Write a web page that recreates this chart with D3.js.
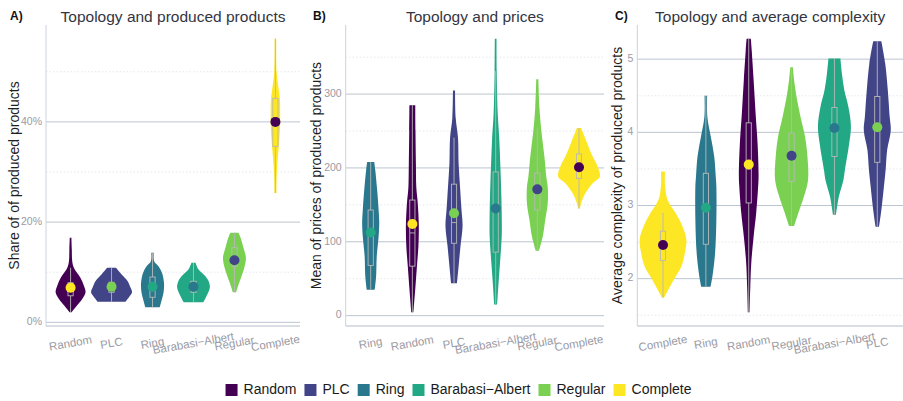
<!DOCTYPE html>
<html>
<head>
<meta charset="utf-8">
<script src="https://cdn.jsdelivr.net/npm/d3@7"></script>
<style>
  body { margin: 0; background: #fff; }
  text { font-family: "Liberation Sans", Arial, sans-serif; }
</style>
</head>
<body>
<div id="chart"></div>
<script>
// categories and viridis colours
var categories = ["Random", "PLC", "Ring", "Barabasi-Albert", "Regular", "Complete"];
var catColors = ["#440154", "#414487", "#2A788E", "#22A884", "#7AD151", "#FDE725"];

// panel A: share of produced products (%)
var shareOrder = ["Random", "PLC", "Ring", "Barabasi-Albert", "Regular", "Complete"];
var shareDensity = [
  [[2.0,0.05],[3.3,0.3],[4.6,0.56],[6.0,0.73],[7.3,0.65],[8.9,0.48],[10.9,0.16],[12.2,0.08],[14.5,0.06],[16.9,0.04]],
  [[4.1,0.68],[5.0,0.85],[6.0,1.0],[7.0,0.92],[8.3,0.77],[9.6,0.48],[10.9,0.22]],
  [[3.0,0.35],[4.6,0.46],[6.0,0.54],[7.9,0.56],[9.9,0.46],[11.2,0.29],[12.2,0.08],[13.9,0.06]],
  [[4.0,0.48],[5.6,0.68],[7.0,0.8],[8.3,0.73],[9.3,0.56],[10.6,0.24],[11.9,0.1]],
  [[6.0,0.08],[7.3,0.18],[8.9,0.32],[10.9,0.48],[12.9,0.56],[14.9,0.44],[16.9,0.3],[17.9,0.2]],
  [[25.8,0.05],[30,0.07],[34.4,0.15],[37,0.2],[39.8,0.23],[42,0.23],[44.4,0.22],[47.7,0.12],[50,0.06],[56.6,0.04]]
];
// [lower whisker, q1, median, q3, upper whisker]
var shareBox = [[2.0,5.3,6.3,7.9,10.9],[4.1,6.0,6.6,8.0,10.9],[3.0,5.0,7.0,9.05,13.9],[4.0,6.0,7.0,8.2,11.9],[6.0,11.2,12.5,14.9,17.9],[25.8,35.1,40.0,44.7,56.6]];
var shareMean = [6.9, 7.1, 7.1, 7.1, 12.4, 40.0];
var shareTicks = [0, 20, 40];
var shareMinor = [10, 30, 50];

// panel B: mean of prices
var priceOrder = ["Ring", "Random", "PLC", "Barabasi-Albert", "Regular", "Complete"];
var priceDensity = [
  [[35,0.19],[53,0.26],[80,0.29],[107,0.38],[125,0.41],[143,0.38],[170,0.31],[197,0.22],[208,0.17]],
  [[4.5,0.05],[36,0.14],[67,0.22],[94,0.29],[123,0.31],[152,0.26],[174,0.19],[206,0.17],[250,0.15],[285,0.14]],
  [[44,0.14],[67,0.22],[94,0.31],[121,0.41],[143,0.36],[174,0.29],[206,0.22],[241,0.19],[268,0.08],[305,0.05]],
  [[15,0.07],[45,0.14],[76,0.22],[107,0.29],[139,0.29],[174,0.26],[206,0.22],[241,0.17],[273,0.1],[331,0.05],[375,0.04]],
  [[88,0.08],[107,0.26],[130,0.38],[152,0.5],[174,0.5],[188,0.43],[215,0.34],[251,0.19],[282,0.1],[320,0.05]],
  [[145,0.04],[152,0.1],[165,0.29],[179,0.65],[188,1.0],[201,0.91],[219,0.6],[237,0.34],[254,0.1]]
];
var priceBox = [[35,68,110,143,208],[4.5,67,112,156.5,285],[44,98,126,178,241],[15,86,140,194.5,331],[88,143,170,193,255],[145,186,200,219,254]];
var priceMean = [112.6, 124, 138.6, 145, 171, 201];
var priceTicks = [0, 100, 200, 300];
var priceMinor = [50, 150, 250, 350];

// panel C: average complexity
var complexOrder = ["Complete", "Ring", "Random", "Regular", "Barabasi-Albert", "PLC"];
var complexDensity = [
  [[1.74,0.05],[1.855,0.26],[1.99,0.51],[2.17,0.86],[2.35,1.02],[2.535,1.09],[2.72,0.9],[2.9,0.58],[3.08,0.21],[3.26,0.1],[3.465,0.09]],
  [[1.89,0.22],[2.04,0.31],[2.35,0.43],[2.81,0.49],[3.26,0.49],[3.4,0.46],[3.67,0.39],[3.94,0.23],[4.21,0.07],[4.5,0.06]],
  [[1.54,0.04],[1.855,0.07],[2.22,0.12],[2.58,0.23],[2.9,0.35],[3.26,0.44],[3.4,0.46],[3.81,0.42],[4.26,0.32],[4.71,0.23],[5.12,0.14],[5.28,0.1]],
  [[2.72,0.12],[2.9,0.32],[3.125,0.58],[3.35,0.77],[3.67,0.74],[3.94,0.63],[4.21,0.42],[4.49,0.23],[4.71,0.12],[4.89,0.06]],
  [[2.875,0.07],[3.125,0.21],[3.35,0.42],[3.49,0.49],[3.81,0.67],[4.08,0.77],[4.35,0.65],[4.58,0.46],[4.8,0.35],[5.01,0.28]],
  [[2.71,0.08],[2.94,0.19],[3.26,0.31],[3.49,0.39],[3.76,0.46],[4.03,0.63],[4.21,0.58],[4.58,0.49],[4.94,0.37],[5.245,0.19]]
];
var complexBox = [[1.74,2.25,2.45,2.65,2.9],[1.89,2.47,2.95,3.44,4.5],[1.54,3.035,3.5,4.13,5.28],[2.72,3.33,3.65,3.99,4.89],[2.875,3.67,4.05,4.34,5.01],[2.71,3.59,4.05,4.49,5.245]];
var complexMean = [2.46, 2.97, 3.56, 3.68, 4.06, 4.07];
var complexTicks = [2, 3, 4, 5];
var complexMinor = [1.5, 2.5, 3.5, 4.5];

var width = 903, height = 401;
var plotTop = 25, plotBottom = 326;
var gridColor = "#bcc5d0";

var svg = d3.select("#chart").append("svg")
      .attr("width", width)
      .attr("height", height)
      .style("background", "#fff");

var color = d3.scaleOrdinal().domain(categories).range(catColors);
var meanColor = d3.scaleOrdinal().domain(categories).range(catColors.slice().reverse());

function displayName(c) { return c.replace("-", "\u2212"); }

drawPanel({ left: 46, right: 300, order: shareOrder, dens: shareDensity, box: shareBox, mean: shareMean,
      ticks: shareTicks, minor: shareMinor, fmt: function (d) { return d + "%"; },
      title: "Topology and produced products", letter: "A)", letterX: 10,
      ytitle: "Share of of produced products", ytitleX: 19 });
drawPanel({ left: 345.7, right: 604, order: priceOrder, dens: priceDensity, box: priceBox, mean: priceMean,
      ticks: priceTicks, minor: priceMinor, fmt: function (d) { return d; },
      title: "Topology and prices", letter: "B)", letterX: 313,
      ytitle: "Mean of prices of produced products", ytitleX: 321 });
drawPanel({ left: 637.3, right: 903, order: complexOrder, dens: complexDensity, box: complexBox, mean: complexMean,
      ticks: complexTicks, minor: complexMinor, fmt: function (d) { return d; },
      title: "Topology and average complexity", letter: "C)", letterX: 615,
      ytitle: "Average complexity of produced products", ytitleX: 622 });

function drawPanel(p) {
      var g = svg.append("g");

      // y domain: data extent expanded by 5% like ggplot
      var all = [];
      p.dens.forEach(function (d) { d.forEach(function (e) { all.push(e[0]); }); });
      var ext = d3.extent(all), pad = (ext[1] - ext[0]) * 0.05;
      var y = d3.scaleLinear().domain([ext[0] - pad, ext[1] + pad]).range([plotBottom, plotTop]);
      var x = d3.scalePoint().domain(p.order).range([p.left, p.right]).padding(0.6);
      var step = x.step();

      // minor grid
      g.selectAll(".minor").data(p.minor).enter().append("line")
            .attr("x1", p.left).attr("x2", p.right)
            .attr("y1", function (d) { return y(d); }).attr("y2", function (d) { return y(d); })
            .attr("stroke", "#dde2e8").attr("stroke-width", 0.8)
            .attr("stroke-dasharray", "1.5,2");

      // major grid
      g.selectAll(".major").data(p.ticks).enter().append("line")
            .attr("x1", p.left).attr("x2", p.right)
            .attr("y1", function (d) { return y(d); }).attr("y2", function (d) { return y(d); })
            .attr("stroke", gridColor).attr("stroke-width", 1);

      // axis lines
      g.append("line").attr("x1", p.left).attr("x2", p.left).attr("y1", plotTop).attr("y2", plotBottom)
            .attr("stroke", "#ccd3db").attr("stroke-width", 1);
      g.append("line").attr("x1", p.left).attr("x2", p.right).attr("y1", plotBottom).attr("y2", plotBottom)
            .attr("stroke", "#ccd3db").attr("stroke-width", 1.6);

      // y tick labels
      g.selectAll(".ylab").data(p.ticks).enter().append("text")
            .attr("x", p.left - 4).attr("y", function (d) { return y(d); })
            .attr("text-anchor", "end").attr("dominant-baseline", "middle")
            .attr("font-size", "10.5px").attr("fill", "#9a9aa3")
            .text(p.fmt);

      // x tick labels
      p.order.forEach(function (c) {
            g.append("text")
                  .attr("transform", "translate(" + x(c) + ",344) rotate(-10)")
                  .attr("text-anchor", "middle").attr("dominant-baseline", "middle")
                  .attr("font-size", "11.5px").attr("fill", "#9a9aa3")
                  .text(displayName(c));
      });

      // violins
      p.order.forEach(function (c, i) {
            var cx = x(c);
            var area = d3.area()
                  .curve(d3.curveCatmullRom)
                  .y(function (d) { return y(d[0]); })
                  .x0(function (d) { return cx - d[1] * step / 2; })
                  .x1(function (d) { return cx + d[1] * step / 2; });
            g.append("path").datum(p.dens[i])
                  .attr("d", area)
                  .attr("fill", color(c));

            var b = p.box[i], bw = 2.6;
            g.append("line").attr("x1", cx).attr("x2", cx).attr("y1", y(b[0])).attr("y2", y(b[1]))
                  .attr("stroke", "#b8b8b8").attr("stroke-width", 0.9);
            g.append("line").attr("x1", cx).attr("x2", cx).attr("y1", y(b[3])).attr("y2", y(b[4]))
                  .attr("stroke", "#b8b8b8").attr("stroke-width", 0.9);
            g.append("rect").attr("x", cx - bw).attr("width", bw * 2)
                  .attr("y", y(b[3])).attr("height", y(b[1]) - y(b[3]))
                  .attr("fill", "none").attr("stroke", "#b8b8b8").attr("stroke-width", 0.9);
            g.append("line").attr("x1", cx - bw).attr("x2", cx + bw).attr("y1", y(b[2])).attr("y2", y(b[2]))
                  .attr("stroke", "#b8b8b8").attr("stroke-width", 0.9);

            g.append("circle").attr("cx", cx).attr("cy", y(p.mean[i])).attr("r", 5)
                  .attr("fill", meanColor(c));
      });

      // titles
      g.append("text").attr("x", (p.left + p.right) / 2).attr("y", 22)
            .attr("text-anchor", "middle").attr("font-size", "15.5px").attr("fill", "#333542")
            .text(p.title);
      g.append("text").attr("x", p.letterX).attr("y", 20)
            .attr("font-size", "12px").attr("font-weight", "bold").attr("fill", "#111")
            .text(p.letter);
      g.append("text")
            .attr("transform", "translate(" + p.ytitleX + "," + (plotTop + plotBottom) / 2 + ") rotate(-90)")
            .attr("text-anchor", "middle").attr("font-size", "14px").attr("fill", "#1f1f1f")
            .text(p.ytitle);
}

// legend
var legend = svg.append("g");
var lx = 0, gap = 8;
categories.forEach(function (c) {
      var item = legend.append("g").attr("transform", "translate(" + lx + ",0)");
      item.append("rect").attr("x", 0).attr("y", -6).attr("width", 12).attr("height", 12).attr("fill", color(c));
      var t = item.append("text").attr("x", 18).attr("y", 0).attr("dominant-baseline", "middle")
            .attr("font-size", "14px").attr("fill", "#1a1a1a").text(displayName(c));
      lx += 18 + t.node().getComputedTextLength() + gap;
});
legend.attr("transform", "translate(" + (458.5 - (lx - gap) / 2) + ",390)");
</script>
</body>
</html>
